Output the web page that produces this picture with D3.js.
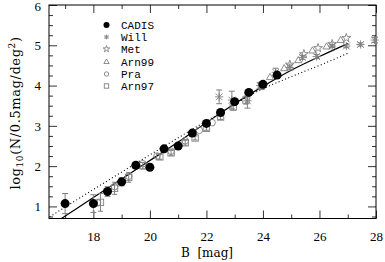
<!DOCTYPE html>
<html>
<head>
<meta charset="utf-8">
<script src="https://cdn.jsdelivr.net/npm/d3@7"></script>
<style>
body { margin: 0; background: #fff; }
svg { display: block; }
.tick text { font-family: "Liberation Serif", serif; font-size: 13px; fill: #000; }
.tick line { stroke: #333; }
</style>
</head>
<body>
<div id="chart"></div>
<script>
// number counts
var cadisB = [17, 18, 18.5, 19, 19.5, 20, 20.5, 21, 21.5, 22, 22.5, 23, 23.5, 24, 24.5];
var cadisV = [1.07, 1.07, 1.37, 1.61, 2.02, 1.97, 2.43, 2.50, 2.82, 3.06, 3.33, 3.60, 3.83, 4.03, 4.26];
var cadisErr = [0.25, 0.22, 0.12, 0.10, 0.08, 0.08, 0.06, 0.06, 0.05, 0.05, 0.04, 0.04, 0.04, 0.04, 0.03];

var willB = [22.45, 22.9, 23.45, 23.9, 24.45, 24.95, 25.4, 25.9, 26.45, 26.95, 27.45, 27.95];
var willV = [3.72, 3.64, 3.62, 4.00, 4.33, 4.45, 4.70, 4.72, 4.98, 4.98, 5.02, 5.13];
var willErr = [0.17, 0.22, 0.18, 0.08, 0.10, 0.06, 0.05, 0.05, 0.04, 0.04, 0.04, 0.06];

var metB = [24.95, 25.45, 25.95, 26.45, 26.95];
var metV = [4.52, 4.78, 4.93, 5.03, 5.18];

var arn99B = [24.25, 24.75, 25.25, 25.75, 26.25, 26.75];
var arn99V = [4.20, 4.42, 4.62, 4.86, 4.96, 5.12];

var praB = [18.15, 18.75, 19.25, 19.75, 20.25, 20.75, 21.25, 21.75, 22.2];
var praV = [1.09, 1.49, 1.75, 2.06, 2.25, 2.37, 2.63, 2.89, 3.08];

var arn97B = [18.25, 18.75, 19.25, 19.75, 20.35, 20.75, 21.25, 21.6, 22.0, 22.5, 22.95, 23.4, 23.95];
var arn97V = [1.10, 1.45, 1.72, 2.01, 2.23, 2.33, 2.58, 2.70, 2.94, 3.22, 3.47, 3.64, 3.99];
var arn97Err = [0.22, 0.15, 0.12, 0.08, 0.06, 0.06, 0.06, 0.05, 0.05, 0.06, 0.08, 0.10, 0.08];

// model curves
var solidB = [16.87, 18, 19, 20, 21, 22, 23, 24, 25, 26, 27];
var solidV = [0.70, 1.22, 1.68, 2.14, 2.60, 3.08, 3.55, 3.98, 4.38, 4.72, 5.04];
var dottedB = [16.45, 18, 20, 22, 24, 25, 26, 27];
var dottedV = [0.74, 1.42, 2.28, 3.12, 3.92, 4.22, 4.50, 4.80];

var legendNames = ["CADIS", "Will", "Met", "Arn99", "Pra", "Arn97"];
var xMajor = [18, 20, 22, 24, 26, 28];
var yMajor = [1, 2, 3, 4, 5, 6];

var svgWidth = 385, svgHeight = 262;
var plotLeft = 49, plotRight = 376, plotTop = 5, plotBottom = 218.5;
var grey = "#808080";

var svg = d3.select("#chart").append("svg")
    .attr("width", svgWidth)
    .attr("height", svgHeight);

var x = d3.scaleLinear().domain([16.43, 28]).range([plotLeft, plotRight]);
var y = d3.scaleLinear().domain([0.7, 6]).range([plotBottom, plotTop]);

var xMinor = d3.range(17, 28, 1).filter(d => xMajor.indexOf(d) < 0);
var yMinor = d3.range(0.75, 6, 0.25).filter(d => yMajor.indexOf(d) < 0);

// axes, ticks pointing inwards on all four sides
function addAxis(axis, tr, labels) {
    var g = svg.append("g").attr("transform", tr).call(axis);
    g.select(".domain").remove();
    if (!labels) g.selectAll("text").remove();
    return g;
}
var fmt = d3.format("d");
addAxis(d3.axisBottom(x).tickValues(xMajor).tickFormat(fmt).tickSize(-8).tickPadding(13), `translate(0,${plotBottom})`, true);
addAxis(d3.axisBottom(x).tickValues(xMinor).tickSize(-4), `translate(0,${plotBottom})`, false);
addAxis(d3.axisTop(x).tickValues(xMajor).tickSize(-8), `translate(0,${plotTop})`, false);
addAxis(d3.axisTop(x).tickValues(xMinor).tickSize(-4), `translate(0,${plotTop})`, false);
var yAxisG = addAxis(d3.axisLeft(y).tickValues(yMajor).tickFormat(fmt).tickSize(-8).tickPadding(8), `translate(${plotLeft},0)`, true);
addAxis(d3.axisLeft(y).tickValues(yMinor).tickSize(-4), `translate(${plotLeft},0)`, false);
addAxis(d3.axisRight(y).tickValues(yMajor).tickSize(-8), `translate(${plotRight},0)`, false);
addAxis(d3.axisRight(y).tickValues(yMinor).tickSize(-4), `translate(${plotRight},0)`, false);
// keep the top label inside the page
yAxisG.selectAll(".tick text").filter(d => d === 6).attr("dy", "0.45em");

svg.append("rect")
    .attr("x", plotLeft).attr("y", plotTop)
    .attr("width", plotRight - plotLeft).attr("height", plotBottom - plotTop)
    .attr("fill", "none").attr("stroke", "#000").attr("stroke-width", 1);

// axis titles
svg.append("text")
    .attr("x", 207).attr("y", 257)
    .attr("text-anchor", "middle")
    .style("font-family", "'DejaVu Serif', serif").style("font-size", "12px")
    .attr("xml:space", "preserve")
    .text("B  [mag]");

var yt = svg.append("text")
    .attr("transform", "translate(20,113) rotate(-90)")
    .attr("text-anchor", "middle")
    .style("font-family", "'DejaVu Serif', serif").style("font-size", "13px")
    .style("letter-spacing", "0.6px");
yt.append("tspan").text("log");
yt.append("tspan").attr("dy", 3).style("font-size", "9px").text("10");
yt.append("tspan").attr("dy", -3).text("(N/0.5mag/deg");
yt.append("tspan").attr("dy", -5).style("font-size", "9px").text("2");
yt.append("tspan").attr("dy", 5).text(")");

// curves
var line = d3.line().x(d => x(d[0])).y(d => y(d[1])).curve(d3.curveMonotoneX);
svg.append("path")
    .datum(dottedB.map((b, i) => [b, dottedV[i]]))
    .attr("d", line).attr("fill", "none")
    .attr("stroke", "#000").attr("stroke-width", 1.1).attr("stroke-dasharray", "1,2.5");
svg.append("path")
    .datum(solidB.map((b, i) => [b, solidV[i]]))
    .attr("d", line).attr("fill", "none")
    .attr("stroke", "#000").attr("stroke-width", 1.2);

// error bars
function errorBars(bs, vs, es, cap) {
    var g = svg.append("g").attr("stroke", grey).attr("stroke-width", 1).attr("fill", "none");
    bs.forEach(function(b, i) {
        var cx = x(b), y0 = y(vs[i] - es[i]), y1 = y(vs[i] + es[i]);
        g.append("path").attr("d",
            `M${cx},${y0}V${y1}M${cx - cap},${y0}H${cx + cap}M${cx - cap},${y1}H${cx + cap}`);
    });
}
errorBars(arn97B, arn97V, arn97Err, 2.5);
errorBars(willB, willV, willErr, 3);
errorBars(cadisB, cadisV, cadisErr, 3);

// marker drawing
function asterisk(g, cx, cy, s) {
    g.append("path").attr("d",
        `M${cx - s},${cy - s}L${cx + s},${cy + s}M${cx - s},${cy + s}L${cx + s},${cy - s}` +
        `M${cx},${cy - s * 1.2}V${cy + s * 1.2}M${cx - s * 1.2},${cy}H${cx + s * 1.2}`)
        .attr("stroke", grey).attr("fill", "none").attr("stroke-width", 0.9);
}
function star(g, cx, cy, size) {
    g.append("path").attr("d", d3.symbol(d3.symbolStar, size)())
        .attr("transform", `translate(${cx},${cy})`)
        .attr("fill", "none").attr("stroke", grey).attr("stroke-width", 0.9);
}
function triangle(g, cx, cy, size) {
    g.append("path").attr("d", d3.symbol(d3.symbolTriangle, size)())
        .attr("transform", `translate(${cx},${cy})`)
        .attr("fill", "none").attr("stroke", grey).attr("stroke-width", 0.9);
}
function ring(g, cx, cy, r) {
    g.append("circle").attr("cx", cx).attr("cy", cy).attr("r", r)
        .attr("fill", "none").attr("stroke", grey).attr("stroke-width", 0.9);
}
function square(g, cx, cy, s) {
    g.append("rect").attr("x", cx - s).attr("y", cy - s).attr("width", 2 * s).attr("height", 2 * s)
        .attr("fill", "none").attr("stroke", grey).attr("stroke-width", 0.9);
}
function dot(g, cx, cy, r) {
    g.append("circle").attr("cx", cx).attr("cy", cy).attr("r", r).attr("fill", "#000");
}

var marks = svg.append("g");
arn97B.forEach((b, i) => square(marks, x(b), y(arn97V[i]), 3.2));
praB.forEach((b, i) => ring(marks, x(b), y(praV[i]), 3.3));
arn99B.forEach((b, i) => triangle(marks, x(b), y(arn99V[i]), 22));
metB.forEach((b, i) => star(marks, x(b), y(metV[i]), 24));
willB.forEach((b, i) => asterisk(marks, x(b), y(willV[i]), 3.4));
cadisB.forEach((b, i) => dot(marks, x(b), y(cadisV[i]), 4.5));

// legend
var legendY = [25, 37, 49, 62, 74, 86];
var lg = svg.append("g");
var lx = 106.5;
dot(lg, lx, legendY[0], 3);
asterisk(lg, lx, legendY[1], 2);
star(lg, lx, legendY[2], 14);
triangle(lg, lx, legendY[3], 12);
ring(lg, lx, legendY[4], 2.2);
square(lg, lx, legendY[5], 2.2);
lg.selectAll("text.leg")
    .data(legendNames)
    .enter().append("text")
    .attr("class", "leg")
    .attr("x", 121)
    .attr("y", (d, i) => legendY[i] + 4)
    .style("font-family", "'Liberation Mono', monospace")
    .style("font-size", "11px")
    .text(d => d);
</script>
</body>
</html>
